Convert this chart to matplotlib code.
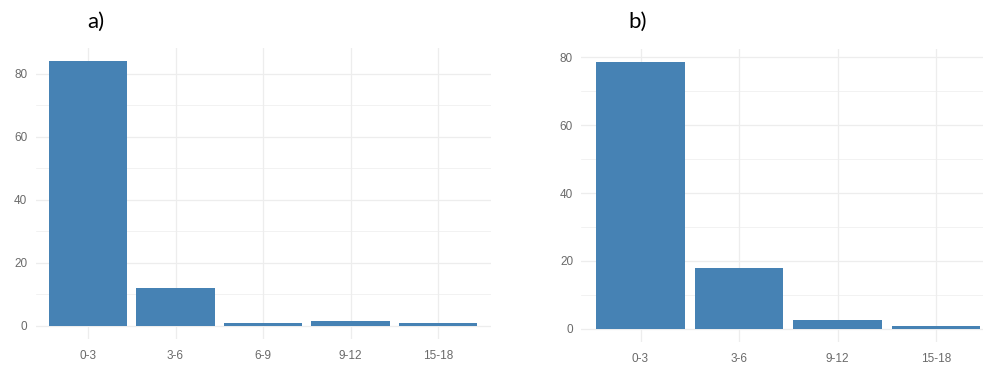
import matplotlib
matplotlib.use("Agg")
import matplotlib.pyplot as plt
from matplotlib.ticker import MultipleLocator

# Age-group distributions (percent) for the two groups
cats_a = ["0-3", "3-6", "6-9", "9-12", "15-18"]
vals_a = [84, 12, 1, 1.5, 1]

cats_b = ["0-3", "3-6", "9-12", "15-18"]
vals_b = [78.5, 17.8, 2.7, 1.0]

bar_color = "#4682B4"
grid_color = "#EDEDED"
tick_color = "#6A6A6A"

fig = plt.figure(figsize=(9.83, 3.65), dpi=100)
fig.patch.set_facecolor("white")


def draw_panel(rect, cats, vals, label, label_x):
    ax = fig.add_axes(rect)
    x = list(range(1, len(cats) + 1))
    ax.bar(x, vals, width=0.9, color=bar_color, zorder=3)
    ymax = max(vals)
    ax.set_xlim(0.4, len(cats) + 0.6)
    ax.set_ylim(-0.05 * ymax, 1.05 * ymax)
    ax.set_xticks(x)
    ax.set_xticklabels(cats)
    ax.yaxis.set_major_locator(MultipleLocator(20))
    ax.yaxis.set_minor_locator(MultipleLocator(10))
    ax.grid(axis="y", which="major", color=grid_color, linewidth=0.9, zorder=0)
    ax.grid(axis="y", which="minor", color=grid_color, linewidth=0.5, zorder=0)
    ax.grid(axis="x", which="major", color=grid_color, linewidth=0.9, zorder=0)
    for s in ax.spines.values():
        s.set_visible(False)
    ax.tick_params(axis="both", which="both", length=0, labelsize=8.5,
                   labelcolor=tick_color)
    for t in ax.get_xticklabels() + ax.get_yticklabels():
        t.set_family("Liberation Sans")
    ax.tick_params(axis="y", pad=6)
    ax.tick_params(axis="x", pad=8)
    fig.text(label_x, 1 - 22 / 365, label, fontsize=16, family="Lato",
             ha="center", va="center", color="black")
    return ax


draw_panel([35.5 / 983, 1 - 339 / 365, 455 / 983, 291 / 365],
           cats_a, vals_a, "a)", 96 / 983)
draw_panel([581.4 / 983, 1 - 342.3 / 365, 413.7 / 983, 293.5 / 365],
           cats_b, vals_b, "b)", 638 / 983)

fig.savefig("out.png", dpi=100, facecolor="white")
